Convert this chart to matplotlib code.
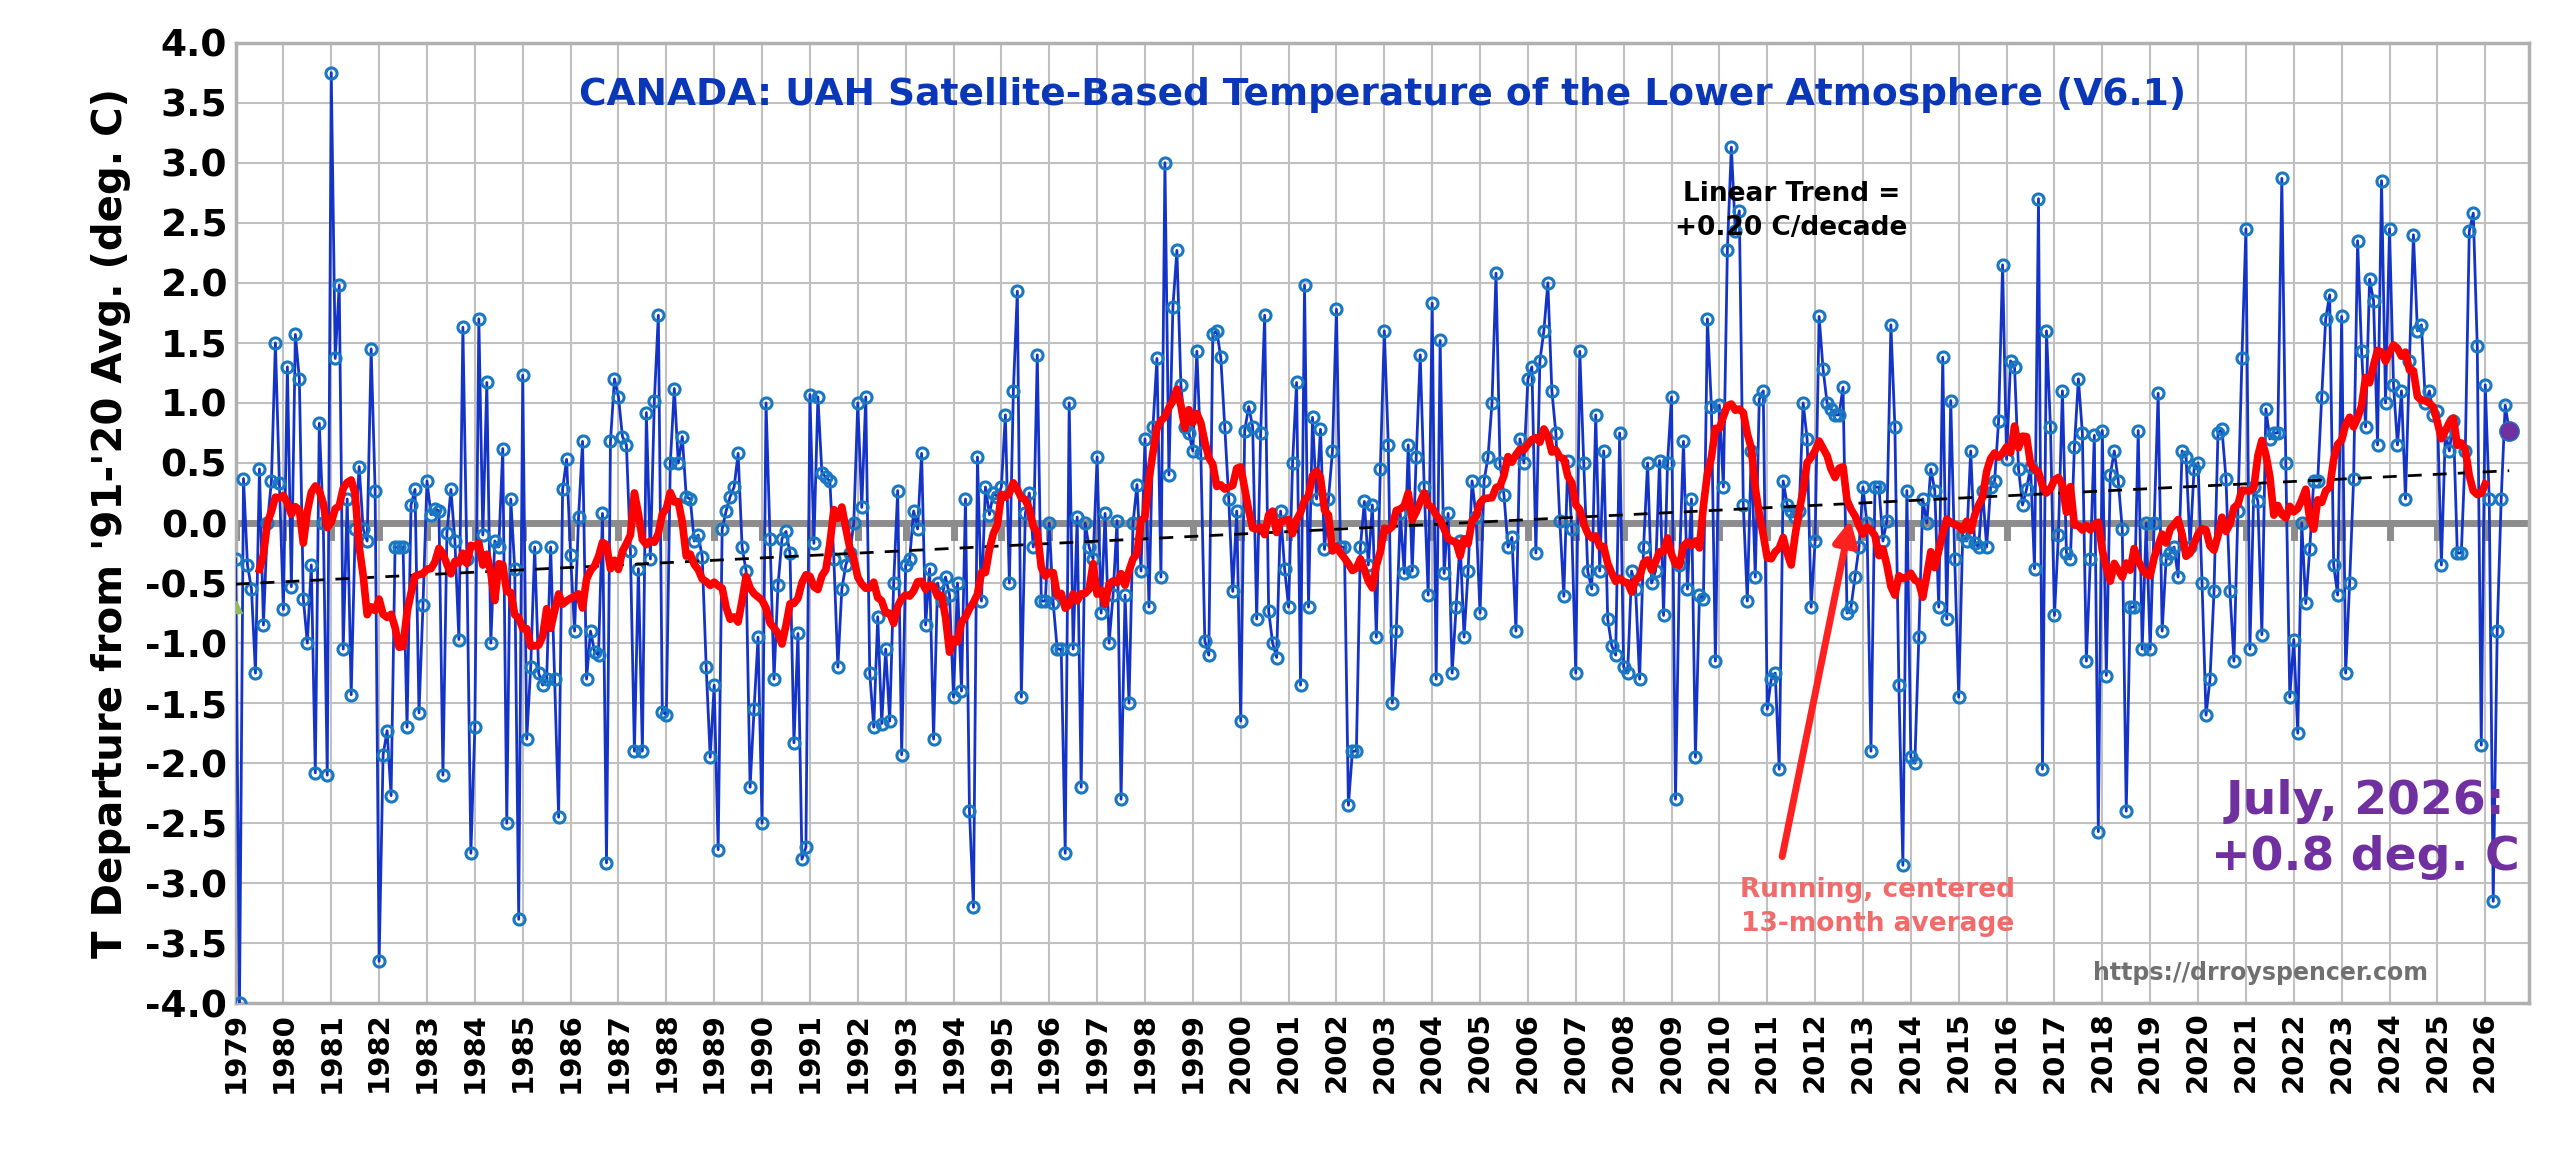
import numpy as np
import pandas as pd
import matplotlib
matplotlib.use("Agg")
import matplotlib.pyplot as plt

start_year = 1979
monthly = {
1979: [-0.3,-4.0,0.37,-0.35,-0.55,-1.25,0.45,-0.85,0.0,0.35,1.5,0.33],
1980: [-0.72,1.3,-0.53,1.57,1.2,-0.63,-1.0,-0.35,-2.08,0.83,0.0,-2.1],
1981: [3.75,1.37,1.98,-1.05,0.2,-1.43,-0.05,0.47,-0.05,-0.15,1.45,0.27],
1982: [-3.65,-1.93,-1.73,-2.27,-0.2,-0.2,-0.2,-1.7,0.15,0.28,-1.58,-0.68],
1983: [0.35,0.07,0.12,0.1,-2.1,-0.08,0.28,-0.15,-0.97,1.63,-0.3,-2.75],
1984: [-1.7,1.7,-0.1,1.17,-1.0,-0.15,-0.2,0.62,-2.5,0.2,-0.38,-3.3],
1985: [1.23,-1.8,-1.2,-0.2,-1.25,-1.35,-1.3,-0.2,-1.3,-2.45,0.28,0.53],
1986: [-0.27,-0.9,0.05,0.68,-1.3,-0.9,-1.07,-1.1,0.08,-2.83,0.68,1.2],
1987: [1.05,0.72,0.65,-0.23,-1.9,-0.38,-1.9,0.92,-0.3,1.02,1.73,-1.57],
1988: [-1.6,0.5,1.12,0.5,0.72,0.22,0.2,-0.15,-0.1,-0.28,-1.2,-1.95],
1989: [-1.35,-2.72,-0.05,0.1,0.22,0.3,0.58,-0.2,-0.4,-2.2,-1.55,-0.95],
1990: [-2.5,1.0,-0.13,-1.3,-0.52,-0.13,-0.07,-0.25,-1.83,-0.92,-2.8,-2.7],
1991: [1.07,-0.17,1.05,0.42,0.38,0.35,-0.3,-1.2,-0.55,-0.35,-0.25,0.0],
1992: [1.0,0.13,1.05,-1.25,-1.7,-0.78,-1.67,-1.05,-1.65,-0.5,0.27,-1.93],
1993: [-0.35,-0.3,0.1,-0.05,0.58,-0.85,-0.38,-1.8,-0.5,-0.65,-0.45,-0.6],
1994: [-1.45,-0.5,-1.4,0.2,-2.4,-3.2,0.55,-0.65,0.3,0.07,0.25,0.22],
1995: [0.3,0.9,-0.5,1.1,1.93,-1.45,0.08,0.25,-0.2,1.4,-0.65,-0.65],
1996: [0.0,-0.67,-1.05,-1.05,-2.75,1.0,-1.05,0.05,-2.2,0.0,-0.2,-0.3],
1997: [0.55,-0.75,0.08,-1.0,-0.6,0.02,-2.3,-0.6,-1.5,0.0,0.32,-0.4],
1998: [0.7,-0.7,0.8,1.37,-0.45,3.0,0.4,1.8,2.27,1.15,0.8,0.75],
1999: [0.6,1.43,0.58,-0.98,-1.1,1.57,1.6,1.38,0.8,0.2,-0.57,0.1],
2000: [-1.65,0.77,0.97,0.8,-0.8,0.75,1.73,-0.73,-1.0,-1.12,0.1,-0.38],
2001: [-0.7,0.5,1.17,-1.35,1.98,-0.7,0.88,0.2,0.78,-0.22,0.2,0.6],
2002: [1.78,-0.2,-0.2,-2.35,-1.9,-1.9,-0.2,0.18,-0.35,0.15,-0.95,0.45],
2003: [1.6,0.65,-1.5,-0.9,0.08,-0.42,0.65,-0.4,0.55,1.4,0.3,-0.6],
2004: [1.83,-1.3,1.52,-0.42,0.08,-1.25,-0.7,-0.15,-0.95,-0.4,0.35,0.05],
2005: [-0.75,0.35,0.55,1.0,2.08,0.5,0.23,-0.2,-0.12,-0.9,0.7,0.5],
2006: [1.2,1.3,-0.25,1.35,1.6,2.0,1.1,0.75,0.02,-0.61,0.52,-0.05],
2007: [-1.25,1.43,0.5,-0.4,-0.55,0.9,-0.4,0.6,-0.8,-1.02,-1.1,0.75],
2008: [-1.2,-1.25,-0.4,-0.55,-1.3,-0.2,0.5,-0.5,-0.4,0.52,-0.77,0.5],
2009: [1.05,-2.3,-0.35,0.68,-0.55,0.2,-1.95,-0.6,-0.63,1.7,0.97,-1.15],
2010: [0.98,0.3,2.27,3.13,2.43,2.6,0.15,-0.65,0.6,-0.45,1.03,1.1],
2011: [-1.55,-1.3,-1.25,-2.05,0.35,0.15,0.1,0.05,0.1,1.0,0.7,-0.7],
2012: [-0.15,1.72,1.28,1.0,0.95,0.9,0.9,1.13,-0.75,-0.7,-0.45,-0.2],
2013: [0.3,0.0,-1.9,0.3,0.3,-0.15,0.02,1.65,0.8,-1.35,-2.85,0.27],
2014: [-1.95,-2.0,-0.95,0.2,0.0,0.45,0.27,-0.7,1.38,-0.8,1.02,-0.3],
2015: [-1.45,-0.1,-0.15,0.6,-0.17,-0.2,0.27,-0.2,0.3,0.35,0.85,2.15],
2016: [0.53,1.35,1.3,0.45,0.15,0.28,0.47,-0.38,2.7,-2.05,1.6,0.8],
2017: [-0.77,-0.1,1.1,-0.25,-0.3,0.63,1.2,0.75,-1.15,-0.3,0.73,-2.57],
2018: [0.77,-1.27,0.4,0.6,0.35,-0.05,-2.4,-0.7,-0.7,0.77,-1.05,0.0],
2019: [-1.05,0.0,1.08,-0.9,-0.3,-0.25,-0.2,-0.45,0.6,0.55,-0.2,0.45],
2020: [0.5,-0.5,-1.6,-1.3,-0.57,0.75,0.78,0.37,-0.57,-1.15,0.1,1.37],
2021: [2.45,-1.05,0.3,0.18,-0.93,0.95,0.7,0.75,0.75,2.87,0.5,-1.45],
2022: [-0.97,-1.75,0.0,-0.67,-0.22,0.35,0.35,1.05,1.7,1.9,-0.35,-0.6],
2023: [1.72,-1.25,-0.5,0.37,2.35,1.43,0.8,2.03,1.85,0.65,2.85,1.0],
2024: [2.45,1.15,0.65,1.1,0.2,1.35,2.4,1.6,1.65,1.0,1.1,0.9],
2025: [0.93,-0.35,0.75,0.6,0.85,-0.25,-0.25,0.6,2.43,2.58,1.47,-1.85],
2026: [1.15,0.2,-3.15,-0.9,0.2,0.98,0.77],
}
year_labels = list(range(1979, 2027))

vals = np.concatenate([np.array(monthly[y], float) for y in sorted(monthly)])
t = np.array([y + m/12 for y in sorted(monthly) for m in range(len(monthly[y]))])
run13 = pd.Series(vals).rolling(13, center=True).mean().values
coef = np.polyfit(t, vals, 1)
trend = np.polyval(coef, t)

fig = plt.figure(figsize=(25.6, 11.52), dpi=100)
ax = fig.add_axes([0.092, 0.129, 0.896, 0.834])
ax.set_xlim(1979, 2026.92)
ax.set_ylim(-4.0, 4.0)
ax.set_xticks(year_labels)
ax.set_xticklabels([str(y) for y in year_labels], rotation=90, fontsize=21, fontweight='bold')
ax.set_yticks(np.arange(-4, 4.01, 0.5))
ax.set_yticklabels([f"{v:.1f}" for v in np.arange(-4, 4.01, 0.5)], fontsize=27, fontweight='bold')
ax.grid(True, color='#c0c0c0', lw=1.5)
ax.set_axisbelow(True)
for s in ax.spines.values():
    s.set_color('#b0b0b0'); s.set_linewidth(2.5)
ax.tick_params(length=0, pad=6)
ax.axhline(0, color='#8c8c8c', lw=5, zorder=1)
for y in year_labels:
    ax.plot([y, y], [-0.12, 0.0], color='#8c8c8c', lw=5, zorder=1)

ax.plot(t, vals, color='#1434c8', lw=2, marker='o', ms=8, mfc='none',
        mec='#1a78c2', mew=2.2, zorder=3)
ax.plot(t, trend, color='black', ls=(0, (5, 4)), lw=2, zorder=4)
ax.plot(t, run13, color='#ff0000', lw=5.5, zorder=5)
ax.plot(t[-1], vals[-1], 'o', ms=14, color='#7030a0', mec='#1a78c2', zorder=6)
ax.plot(1979, -0.7, '^', color='#8fbc5a', ms=8, zorder=6)

ax.set_ylabel("T Departure from '91-'20 Avg. (deg. C)", fontsize=29, fontweight='bold', labelpad=10)
ax.text(0.5, 0.945, "CANADA: UAH Satellite-Based Temperature of the Lower Atmosphere (V6.1)",
        transform=ax.transAxes, ha='center', va='center', fontsize=27, fontweight='bold', color='#0a36b8')
ax.text(2011.5, 2.6, "Linear Trend =\n+0.20 C/decade", ha='center', va='center',
        fontsize=19, fontweight='bold', linespacing=1.4)
ax.text(2013.3, -3.2, "Running, centered\n13-month average", ha='center', va='center',
        fontsize=19, fontweight='bold', color='#f26b6b', linespacing=1.4)
ax.annotate("", xy=(2012.75, 0.05), xytext=(2011.3, -2.8),
            arrowprops=dict(arrowstyle='-|>', color='#ff2020', lw=5, mutation_scale=35))
ax.text(2023.5, -2.55, "July, 2026:\n+0.8 deg. C", ha='center', va='center',
        fontsize=34, fontweight='bold', color='#7030a0', linespacing=1.3)
ax.text(2021.3, -3.75, "https://drroyspencer.com", ha='center', va='center',
        fontsize=17, fontweight='bold', color='#707070')

fig.savefig("out.png", dpi=100)
